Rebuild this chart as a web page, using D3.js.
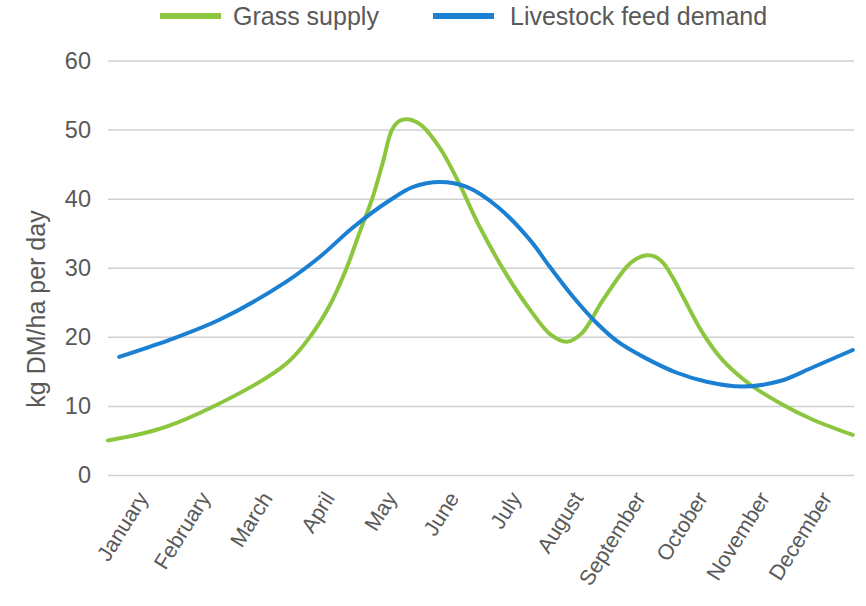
<!DOCTYPE html>
<html>
<head>
<meta charset="utf-8">
<script src="https://cdn.jsdelivr.net/npm/d3@7"></script>
<style>
  body { margin: 0; background: #fff; }
  text { font-family: "Liberation Sans", Arial, sans-serif; fill: #595959; }
</style>
</head>
<body>
<svg width="866" height="606"></svg>
<script>
// month labels (one per category)
const months = ["January", "February", "March", "April", "May", "June",
  "July", "August", "September", "October", "November", "December"];

// time position in months from 1 Jan (0..12)
const grassT = [0, 0.94, 2.33, 2.88, 3.25, 3.57, 3.84, 4.05, 4.25, 4.42, 4.57, 4.7, 4.82,
  4.96, 5.07, 5.23, 5.39, 5.66, 5.98, 6.41, 6.79, 7.11, 7.38, 7.62, 7.96, 8.34, 8.5,
  8.67, 8.8, 8.93, 9.09, 9.25, 9.57, 9.89, 10.33, 10.81, 11.34, 11.98];
const grassSupply = [5.0, 7.0, 12.9, 16.2, 20.0, 24.6, 30.0, 35.2, 40.0, 45.2, 50.0, 51.3, 51.5,
  51.1, 50.4, 48.7, 46.6, 42.0, 35.9, 29.0, 23.9, 20.4, 19.3, 20.5, 25.3, 30.1, 31.3,
  31.8, 31.6, 30.7, 28.5, 25.8, 20.5, 16.6, 13.1, 10.4, 8.0, 5.8];

const demandT = [0.18, 1.0, 1.8, 2.87, 3.41, 3.95, 4.54, 4.91, 5.34, 5.77, 6.27,
  6.79, 7.11, 7.48, 7.86, 8.2, 8.61, 9.15, 9.63, 10.2, 10.81, 11.34, 11.98];
const feedDemand = [17.1, 19.6, 22.5, 28.0, 31.6, 35.9, 39.8, 41.7, 42.4, 41.7, 38.8,
  34.0, 30.1, 25.8, 22.0, 19.3, 17.1, 14.8, 13.5, 12.8, 13.6, 15.6, 18.1];

const yTicks = [0, 10, 20, 30, 40, 50, 60];

const series = [
  { name: "Grass supply", color: "#8cc63e", t: grassT, v: grassSupply },
  { name: "Livestock feed demand", color: "#1b80d2", t: demandT, v: feedDemand }
];

const svg = d3.select("svg");

const x = d3.scaleLinear().domain([0, 12]).range([108, 854]);
const y = d3.scaleLinear().domain([0, 60]).range([475, 60.5]);

// gridlines + y labels
const yAxis = d3.axisLeft(y).tickValues(yTicks).tickSize(-(854 - 108)).tickPadding(17);
const gy = svg.append("g").attr("transform", "translate(108,0)").call(yAxis);
gy.select(".domain").remove();
gy.selectAll(".tick line").attr("stroke", "#d0d0d0").attr("stroke-width", 1.5);
gy.selectAll(".tick text").attr("font-size", 23.5).attr("fill", "#595959");

// month labels
const xAxis = d3.axisBottom(x)
  .tickValues(months.map((m, i) => i + 0.5))
  .tickFormat((d, i) => months[i])
  .tickSize(0);
const gx = svg.append("g").attr("transform", "translate(0,475)").call(xAxis);
gx.select(".domain").remove();
gx.selectAll(".tick text")
  .attr("font-size", 21.5)
  .attr("fill", "#595959")
  .attr("text-anchor", "end")
  .attr("dy", "0.35em")
  .attr("transform", "translate(3,19) rotate(-58)")
  .attr("x", 0).attr("y", 0);

// y title
svg.append("text")
  .attr("transform", "translate(45,309) rotate(-90)")
  .attr("text-anchor", "middle")
  .attr("font-size", 25)
  .text("kg DM/ha per day");

// lines
const line = d3.line().curve(d3.curveCatmullRom.alpha(0.5));
series.forEach(s => {
  svg.append("path")
    .attr("d", line(s.t.map((t, i) => [x(t), y(s.v[i])])))
    .attr("fill", "none")
    .attr("stroke", s.color)
    .attr("stroke-width", 4)
    .attr("stroke-linecap", "round");
});

// legend
const legendX = [160, 433];
series.forEach((s, i) => {
  const g = svg.append("g").attr("transform", `translate(${legendX[i]},16)`);
  g.append("line").attr("x1", 0).attr("x2", 61).attr("y1", 0).attr("y2", 0)
    .attr("stroke", s.color).attr("stroke-width", 6);
  g.append("text").attr("x", i === 0 ? 73 : 77).attr("y", 0).attr("dy", "0.35em")
    .attr("font-size", 25).text(s.name);
});
</script>
</body>
</html>
